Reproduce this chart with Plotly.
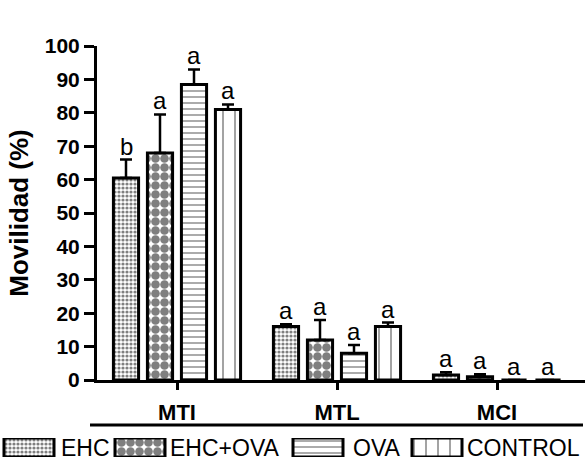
import plotly.graph_objects as go

categories = ["MTI", "MTL", "MCI"]
groups = ["EHC", "EHC+OVA", "OVA", "CONTROL"]
means = {
    "EHC": [60.5, 16.0, 1.5],
    "EHC+OVA": [68.0, 12.0, 1.0],
    "OVA": [88.5, 8.0, 0.0],
    "CONTROL": [81.0, 16.0, 0.0],
}
errors = {
    "EHC": [5.5, 0.7, 0.8],
    "EHC+OVA": [11.5, 6.0, 0.7],
    "OVA": [4.5, 2.5, 0.0],
    "CONTROL": [1.5, 1.2, 0.0],
}
letters = {
    "EHC": ["b", "a", "a"],
    "EHC+OVA": ["a", "a", "a"],
    "OVA": ["a", "a", "a"],
    "CONTROL": ["a", "a", "a"],
}

# styling / layout (not data)
patterns = {
    "EHC": dict(shape=".", size=4, solidity=0.5),
    "EHC+OVA": dict(shape=".", size=9, solidity=0.72),
    "OVA": dict(shape="-", size=6, solidity=0.22),
    "CONTROL": dict(shape="|", size=12, solidity=0.12),
}
W, H = 588, 461
ML, MR = 0, 3
PW, PH = W - ML - MR, H
legend_box_left = {"EHC": 4, "EHC+OVA": 115, "OVA": 293, "CONTROL": 412}
legend_box_width = 50
legend_text_left = {"EHC": 59, "EHC+OVA": 168, "OVA": 351, "CONTROL": 465}

FONT = "Liberation Sans, Arial, sans-serif"


def py(pix):
    return (H - pix) / PH


fig = go.Figure()
for g in groups:
    p = patterns[g]
    pat = dict(shape=p["shape"], size=p["size"], solidity=p["solidity"],
               fgcolor="black", bgcolor="white", fillmode="overlay")
    fig.add_trace(go.Bar(
        name=g, x=categories, y=means[g], showlegend=False,
        marker=dict(color="white", line=dict(color="black", width=3), pattern=pat),
        error_y=dict(type="data", array=errors[g], arrayminus=[0] * 3, symmetric=False,
                     color="black", thickness=2.5, width=6),
        xaxis="x", yaxis="y",
    ))
    # legend swatch drawn as a bar on a helper axis
    fig.add_trace(go.Bar(
        x=[legend_box_left[g] + legend_box_width / 2], y=[1], base=[0], width=[legend_box_width],
        marker=dict(color="white", line=dict(color="black", width=3), pattern=pat),
        showlegend=False, hoverinfo="skip", xaxis="x2", yaxis="y2",
    ))
    fig.add_annotation(x=legend_text_left[g], y=0.5, xref="x2", yref="y2", text=g,
                       showarrow=False, xanchor="left", yanchor="middle",
                       font=dict(family=FONT, size=23, color="black"))

pitch_px = 34
for i, g in enumerate(groups):
    for j, c in enumerate(categories):
        fig.add_annotation(x=c, y=means[g][j] + errors[g][j], text=letters[g][j],
                           xref="x", yref="y", showarrow=False, yanchor="bottom",
                           xshift=(i - 1.5) * pitch_px, yshift=-2,
                           font=dict(family=FONT, size=24, color="black"))

fig.add_shape(type="line", xref="paper", yref="paper", x0=90 / PW, x1=583 / PW,
              y0=py(425), y1=py(425), line=dict(color="black", width=3))

fig.update_layout(
    width=W, height=H,
    margin=dict(l=ML, r=MR, t=0, b=0),
    paper_bgcolor="white", plot_bgcolor="white",
    barmode="group", bargap=0.15, bargroupgap=0.26,
    font=dict(family=FONT, color="black"),
    showlegend=False,
    xaxis=dict(domain=[97 / PW, 1], range=[-0.5, 2.55], showline=True, linecolor="black", linewidth=3,
               ticks="outside", ticklen=7, tickwidth=3, tickcolor="black", ticklabelstandoff=4,
               tickfont=dict(family=FONT, size=22, color="black", weight="bold"),
               showgrid=False, zeroline=False, anchor="y", automargin=False),
    yaxis=dict(domain=[py(380), py(46)], range=[0, 100], dtick=10, showline=True, linecolor="black",
               linewidth=3, ticks="outside", ticklen=10, tickwidth=3, tickcolor="black",
               tickfont=dict(family=FONT, size=21, color="black", weight="bold"),
               showgrid=False, zeroline=False, anchor="x", automargin=False,
               title=dict(text="Movilidad (%)", font=dict(family=FONT, size=26, color="black", weight="bold"),
                          standoff=9)),
    xaxis2=dict(domain=[0, 1], range=[0, PW], visible=False, anchor="y2", fixedrange=True),
    yaxis2=dict(domain=[py(457), py(438)], range=[0, 1], visible=False, anchor="x2", fixedrange=True),
)

fig.write_html("out.html", config={"displayModeBar": False},
               post_script="document.body.style.margin='0';document.body.style.overflow='hidden';")
